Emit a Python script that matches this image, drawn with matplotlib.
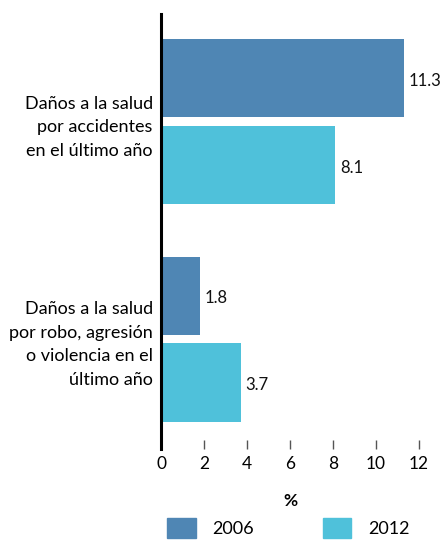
import matplotlib
matplotlib.use("Agg")
import matplotlib.pyplot as plt
import matplotlib.patches as mpatches

categories = [
    "Daños a la salud\npor accidentes\nen el último año",
    "Daños a la salud\npor robo, agresión\no violencia en el\núltimo año",
]
years = ["2006", "2012"]
values_2006 = [11.3, 1.8]
values_2012 = [8.1, 3.7]
x_ticks = [0, 2, 4, 6, 8, 10, 12]

colors = {"2006": "#4f86b4", "2012": "#4fc1da"}

plt.rcParams["font.family"] = ["Lato", "DejaVu Sans"]

fig = plt.figure(figsize=(4.42, 5.4), dpi=100)
ax = fig.add_axes([0.3643, 0.1685, 0.5837, 0.8055])

group_pos = [0, 2.5]
series = [values_2006, values_2012]
for k, (year, vals) in enumerate(zip(years, series)):
    ys = [g - 0.5 + k for g in group_pos]
    ax.barh(ys, vals, height=0.9, color=colors[year], label=year)
    for y, v in zip(ys, vals):
        ax.annotate(f"{v:.1f}", (v, y), xytext=(3.5, -2), textcoords="offset points",
                    va="center", ha="left", fontsize=12, color="#111111")

ax.set_xlim(0, 12)
ax.set_ylim(3.764, -1.24)
ax.set_xticks(x_ticks)
ax.set_xticklabels([str(t) for t in x_ticks])
ax.set_yticks(group_pos)
ax.set_yticklabels(categories, fontsize=13, linespacing=1.58)
ax.tick_params(axis="y", length=0, pad=6)
ax.tick_params(axis="x", direction="in", length=6.5, width=1, color="#555555",
               labelsize=12.5, pad=5)
for s in ["top", "right", "bottom"]:
    ax.spines[s].set_visible(False)
ax.spines["left"].set_linewidth(2.2)
ax.spines["left"].set_color("black")
ax.set_xlabel("%", fontsize=12.5, fontweight="bold", labelpad=15)

handles = [mpatches.Patch(color=colors[y], label=y) for y in years]
fig.legend(handles=handles, loc="lower left", bbox_to_anchor=(0.362, -0.01), ncol=2,
           frameon=False, fontsize=13, handlelength=1.6, handleheight=1.3,
           handletextpad=0.9, columnspacing=3.8, borderaxespad=0)

fig.savefig("out.png", dpi=100)
